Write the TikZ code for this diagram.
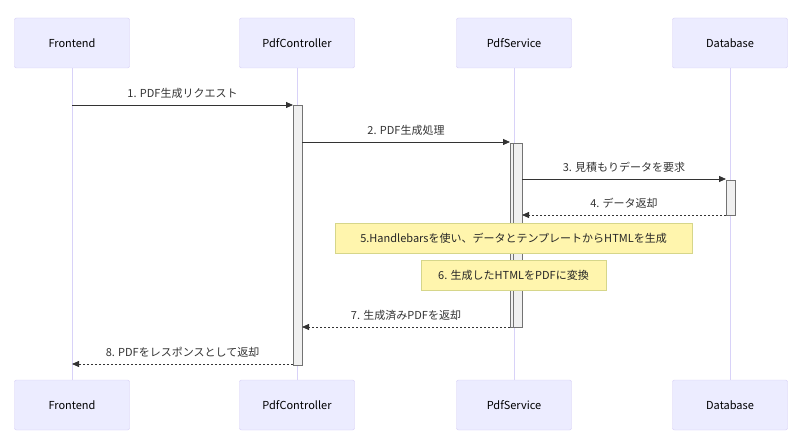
\documentclass[tikz,border=0pt]{standalone}
\usepackage{fontspec}
\setmainfont{Noto Sans CJK JP}
\usetikzlibrary{arrows.meta}
\definecolor{actfill}{HTML}{ECECFF}
\definecolor{actline}{HTML}{D4CCF5}
\definecolor{lifel}{HTML}{D8D2F8}
\definecolor{notefill}{HTML}{FFF5AD}
\definecolor{noteline}{HTML}{D6D68A}
\definecolor{msg}{HTML}{333333}
\tikzset{
 actor/.style={draw=actline,fill=actfill,rounded corners=2pt,minimum width=115pt,minimum height=50pt,font=\fontsize{11}{13}\selectfont,text=black},
 life/.style={draw=lifel,line width=0.8pt},
 actbar/.style={draw=black!55,fill=black!6,line width=0.5pt},
 msgline/.style={draw=msg,line width=0.8pt,-{Triangle[length=7pt,width=6pt]}},
 retline/.style={msgline,dash pattern=on 2pt off 2pt},
 lbl/.style={font=\fontsize{11}{13}\selectfont,text=black!80},
 note/.style={draw=noteline,fill=notefill,minimum height=30pt,font=\fontsize{11}{13}\selectfont,text=black!85},
}
\begin{document}
\begin{tikzpicture}[x=1pt,y=-1pt]
\useasboundingbox (0,0) rectangle (800,443);
\foreach \n/\x/\t in {f/72/Frontend,c/297/PdfController,s/514/PdfService,d/730/Database}{
 \node[actor] (\n top) at (\x,43) {\t};
 \node[actor] (\n bot) at (\x,405) {\t};
 \draw[life] (\n top.south) -- (\n bot.north);
}
% activations
\node[actbar,minimum width=9pt,minimum height=260pt,inner sep=0pt] (ac) at (297.5,235) {};
\node[actbar,minimum width=9pt,minimum height=184pt,inner sep=0pt] (as1) at (514.5,235) {};
\node[actbar,minimum width=9pt,minimum height=184pt,inner sep=0pt] (as2) at (517.5,235) {};
\node[actbar,minimum width=9pt,minimum height=35pt,inner sep=0pt] (ad) at (730.5,197.5) {};
% coordinates
\coordinate (m1s) at (72,105); \coordinate (m1e) at (293,105);
\coordinate (m2s) at (302,142); \coordinate (m2e) at (510,142);
\coordinate (m3s) at (522,179); \coordinate (m3e) at (726,179);
\coordinate (m4s) at (726,215); \coordinate (m4e) at (522,215);
\coordinate (m7s) at (510,327); \coordinate (m7e) at (302,327);
\coordinate (m8s) at (293,364); \coordinate (m8e) at (72,364);
\draw[msgline] (m1s) -- (m1e) node[lbl,midway,above=3pt] {1. PDF生成リクエスト};
\draw[msgline] (m2s) -- (m2e) node[lbl,midway,above=3pt] {2. PDF生成処理};
\draw[msgline] (m3s) -- (m3e) node[lbl,midway,above=3pt] {3. 見積もりデータを要求};
\draw[retline] (m4s) -- (m4e) node[lbl,midway,above=3pt] {4. データ返却};
\node[note,minimum width=357pt] (n5) at (513.5,238) {5.Handlebarsを使い、データとテンプレートからHTMLを生成};
\node[note,minimum width=185pt] (n6) at (513.5,275.5) {6. 生成したHTMLをPDFに変換};
\draw[retline] (m7s) -- (m7e) node[lbl,midway,above=3pt] {7. 生成済みPDFを返却};
\draw[retline] (m8s) -- (m8e) node[lbl,midway,above=3pt] {8. PDFをレスポンスとして返却};
\end{tikzpicture}
\end{document}
